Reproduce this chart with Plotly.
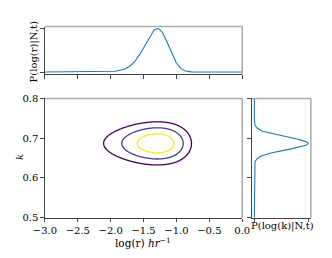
import numpy as np
import plotly.graph_objects as go

# ---- values ----
x_ticks = [-3.0, -2.5, -2.0, -1.5, -1.0, -0.5, 0.0]
x_tick_labels = ["\u22123.0", "\u22122.5", "\u22122.0", "\u22121.5", "\u22121.0", "\u22120.5", "0.0"]
k_ticks = [0.5, 0.6, 0.7, 0.8]
k_tick_labels = ["0.5", "0.6", "0.7", "0.8"]

# posterior parameters (estimated from the contour extents)
r_power = 0.3          # posterior roughly Gaussian in r**0.3
t_center = 0.410       # centre of r**0.3
t_sigma = 0.0514       # spread of r**0.3
k_center = 0.687
k_sigma = 0.0158
# 2D confidence levels (chi2 with 2 dof: 68%, 95%, 99.7%)
conf_q = [11.83, 6.18, 2.30]
level_colors = ["#440154", "#433e85", "#fde725"]

# ---- grid ----
logr = np.linspace(-3.0, 0.0, 401)
kgrid = np.linspace(0.5, 0.8, 401)
X, K = np.meshgrid(logr, kgrid)
T = 10 ** (r_power * X)
Z = np.exp(-0.5 * ((T - t_center) / t_sigma) ** 2 - 0.5 * ((K - k_center) / k_sigma) ** 2)
levels = [float(np.exp(-q / 2)) for q in conf_q]

p_logr = Z.sum(axis=0)
p_logr = p_logr / p_logr.max()
p_k = Z.sum(axis=1)
p_k = p_k / p_k.max()

FONT = "DejaVu Serif"
FS = 10
W, H = 332, 258
# domains (paper)
xm = [35 / W, 245 / W]
xr = [255 / W, 318 / W]
ym = [1 - 222 / H, 1 - 97 / H]
yt = [1 - 71.5 / H, 1 - 21.5 / H]

fig = go.Figure()
for lv, col in zip(levels, level_colors):
    fig.add_trace(go.Contour(
        x=logr, y=kgrid, z=Z, xaxis="x", yaxis="y",
        contours=dict(start=lv, end=lv, size=1, coloring="lines", showlabels=False),
        colorscale=[[0, col], [1, col]], showscale=False,
        line=dict(width=1.3), hoverinfo="skip"))

fig.add_trace(go.Scatter(x=logr, y=p_logr, mode="lines", xaxis="x2", yaxis="y2",
                         line=dict(color="#1f77b4", width=1.1)))
fig.add_trace(go.Scatter(x=p_k, y=kgrid, mode="lines", xaxis="x3", yaxis="y3",
                         line=dict(color="#1f77b4", width=1.1)))

axis_common = dict(showgrid=False, zeroline=False, showline=True, linecolor="#444",
                   linewidth=1, ticks="outside", ticklen=3.5, tickwidth=1, tickcolor="#444",
                   tickfont=dict(family=FONT, size=FS, color="black"))

fig.update_layout(
    width=W, height=H, margin=dict(l=0, r=0, t=0, b=0),
    paper_bgcolor="white", plot_bgcolor="white", showlegend=False,
    font=dict(family=FONT, size=FS, color="black"),
    xaxis=dict(domain=xm, anchor="y", range=[-3, 0], tickvals=x_ticks,
               ticktext=x_tick_labels, **axis_common),
    yaxis=dict(domain=ym, anchor="x", range=[0.5, 0.8], tickvals=k_ticks,
               ticktext=k_tick_labels, **axis_common),
    xaxis2=dict(domain=xm, anchor="y2", range=[-3, 0], tickvals=x_ticks,
                showticklabels=False, **axis_common),
    yaxis2=dict(domain=yt, anchor="x2", range=[-0.05, 1.05], tickvals=[0, 1],
                showticklabels=False, **axis_common),
    xaxis3=dict(domain=xr, anchor="y3", range=[-0.05, 1.05], tickvals=[0, 1],
                showticklabels=False, **axis_common),
    yaxis3=dict(domain=ym, anchor="x3", range=[0.5, 0.8], tickvals=k_ticks,
                showticklabels=False, **axis_common),
)

# light top/right spines
for xd, yd in [(xm, ym), (xm, yt), (xr, ym)]:
    fig.add_shape(type="line", xref="paper", yref="paper", x0=xd[0], x1=xd[1],
                  y0=yd[1], y1=yd[1], line=dict(color="#aaaaaa", width=1.5))
    fig.add_shape(type="line", xref="paper", yref="paper", x0=xd[1], x1=xd[1],
                  y0=yd[0], y1=yd[1], line=dict(color="#aaaaaa", width=1.5))

ann = dict(showarrow=False, xref="paper", yref="paper")
fig.add_annotation(text="log(r) <i>hr</i><sup>\u22121</sup>", x=139 / W, y=1 - 239 / H,
                   xanchor="center", yanchor="top",
                   font=dict(family=FONT, size=10.5, color="black"), **ann)
fig.add_annotation(text="<i>k</i>", x=8 / W, y=1 - 159 / H, textangle=-90,
                   xanchor="center", yanchor="middle",
                   font=dict(family=FONT, size=FS, color="black"), **ann)
fig.add_annotation(text="P(log(r)|N,t)", x=23 / W, y=1 - 48 / H, textangle=-90,
                   xanchor="center", yanchor="middle",
                   font=dict(family=FONT, size=FS, color="black"), **ann)
fig.add_annotation(text="P(log(k)|N,t)", x=288 / W, y=1 - 231 / H,
                   xanchor="center", yanchor="middle",
                   font=dict(family=FONT, size=FS, color="black"), **ann)

fig.write_html("out.html", config={"displayModeBar": False},
               post_script="document.body.style.margin='0px';")
